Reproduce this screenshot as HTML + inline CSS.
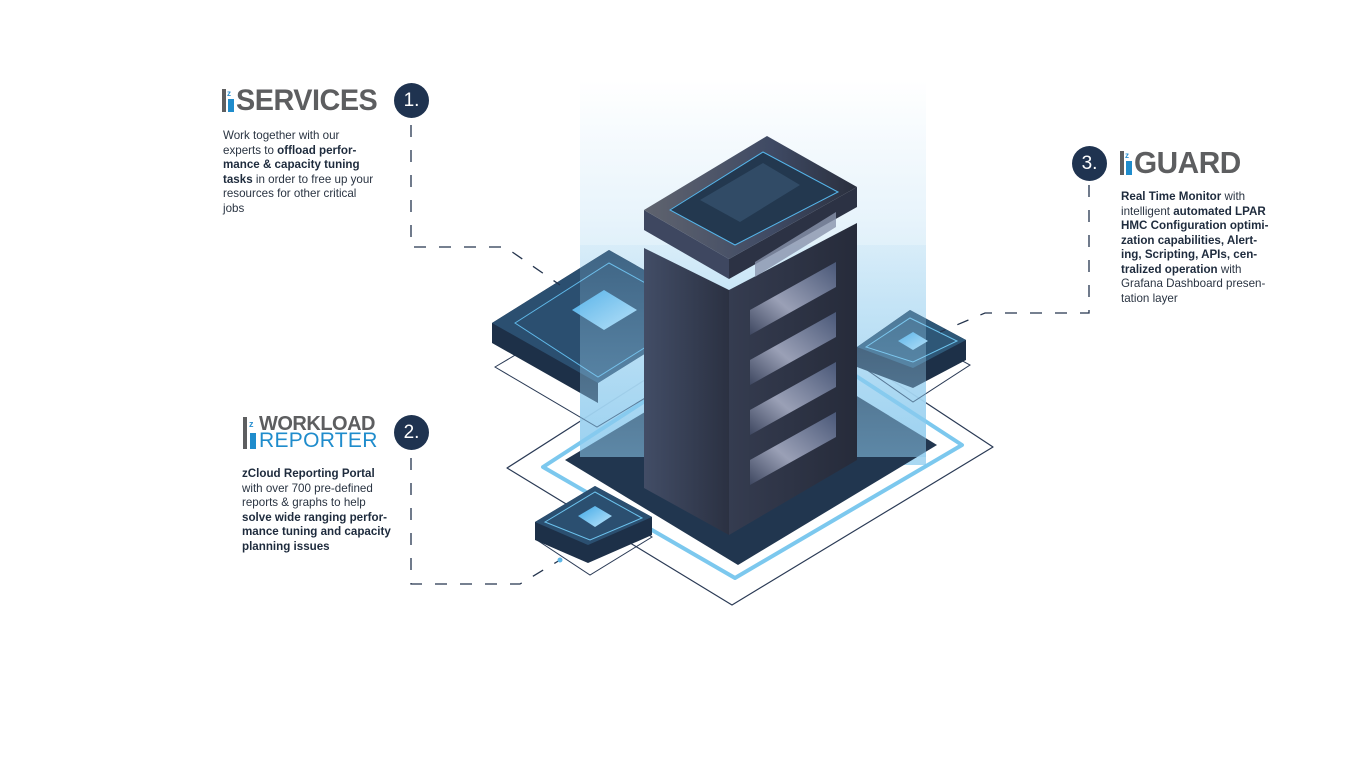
<!DOCTYPE html>
<html><head><meta charset="utf-8">
<style>
body{margin:0;width:1366px;height:768px;background:#fff;overflow:hidden;position:relative;font-family:"Liberation Sans",sans-serif;}
.t{position:absolute;font-size:11.6px;line-height:14.5px;color:#2a3442;}
.t b{color:#1e2b3d;}
.logo{position:absolute;font-weight:bold;color:#5d5e60;letter-spacing:-0.5px;transform-origin:0 0;}
.num{position:absolute;width:35px;height:35px;border-radius:50%;background:#1f3350;color:#fff;font-size:19px;line-height:35px;text-align:center;}
</style></head><body>
<svg width="1366" height="768" style="position:absolute;left:0;top:0">
<defs>
<linearGradient id="glow" x1="0" y1="0" x2="0" y2="1">
<stop offset="0" stop-color="#ffffff"/><stop offset="0.35" stop-color="#e6f3fb"/><stop offset="1" stop-color="#9fd3f0"/>
</linearGradient>
<linearGradient id="ov" x1="0" y1="0" x2="0" y2="1">
<stop offset="0" stop-color="#a7d6f1" stop-opacity="0.15"/><stop offset="1" stop-color="#8ecbef" stop-opacity="0.55"/>
</linearGradient>
<linearGradient id="lf" x1="0" y1="0" x2="1" y2="0"><stop offset="0" stop-color="#424d66"/><stop offset="1" stop-color="#2b3142"/></linearGradient>
<linearGradient id="rf" x1="0" y1="0" x2="1" y2="0"><stop offset="0" stop-color="#353c50"/><stop offset="1" stop-color="#262b3a"/></linearGradient>
<linearGradient id="cap" x1="0" y1="0" x2="1" y2="0"><stop offset="0" stop-color="#5f636e"/><stop offset="0.6" stop-color="#3f4a64"/><stop offset="1" stop-color="#2a2f3d"/></linearGradient>
<linearGradient id="win" x1="0" y1="1" x2="1" y2="0"><stop offset="0" stop-color="#3e4760"/><stop offset="0.4" stop-color="#9aa0b6"/><stop offset="1" stop-color="#4a5878"/></linearGradient>
<linearGradient id="sq" x1="0" y1="0" x2="1" y2="1"><stop offset="0" stop-color="#3fa8e6"/><stop offset="1" stop-color="#bfe6fb"/></linearGradient>
</defs>
<polygon points="507,468 770,300 993,447 732,605" fill="none" stroke="#2a3a55" stroke-width="1.2" stroke-linejoin="round"/>
<rect x="580" y="80" width="346" height="385" fill="url(#glow)" opacity="0.9"/>
<polygon points="543,467 770,320 962,445 735,578" fill="none" stroke="#7cc8ee" stroke-width="4" stroke-linejoin="round"/>
<polygon points="565,460 765,340 937,445 738,565" fill="#21364f"/>
<polygon points="495,367 600,305 700,365 597,427" fill="none" stroke="#2a3a55" stroke-width="1"/>
<polygon points="492,323 609,250 715,310 598,383 598,403 492,343" fill="#1d3048"/>
<polygon points="492,323 609,250 715,310 598,383" fill="#2b4f70"/>
<polygon points="515,323 609,263 700,313 598,377" fill="none" stroke="#5fb8e8" stroke-width="1"/>
<polygon points="572,310 604,290 637,310 604,330" fill="url(#sq)"/>
<polygon points="860,365 915,335 970,365 913,402" fill="none" stroke="#2a3a55" stroke-width="1"/>
<polygon points="857,347 910,310 966,340 966,360 913,388 857,367" fill="#1d3048"/>
<polygon points="857,347 910,310 966,340 913,368" fill="#2e5777"/>
<polygon points="866,347 910,318 957,341 913,362" fill="none" stroke="#6cc3ee" stroke-width="1"/>
<polygon points="898,341 913,332 928,341 913,350" fill="url(#sq)"/>
<rect x="580" y="245" width="346" height="212" fill="url(#ov)"/>
<polygon points="537,540 598,505 652,537 590,575" fill="none" stroke="#2a3a55" stroke-width="1"/>
<polygon points="535,522 595,486 652,517 652,535 588,563 535,540" fill="#1d3048"/>
<polygon points="535,522 595,486 652,517 588,545" fill="#2b4f70"/>
<polygon points="545,522 595,492 642,518 590,540" fill="none" stroke="#6cc3ee" stroke-width="1"/>
<polygon points="578,516 595,506 612,516 595,527" fill="url(#sq)"/>
<polygon points="644,248 729,290 729,535 644,488" fill="url(#lf)"/>
<polygon points="729,290 857,223 857,460 729,535" fill="url(#rf)"/>
<g fill="url(#win)">
<polygon points="750,310 836,262 836,287 750,335"/>
<polygon points="750,360 836,312 836,337 750,385"/>
<polygon points="750,410 836,362 836,387 750,435"/>
<polygon points="750,460 836,412 836,437 750,485"/>
</g>
<polygon points="644,210 729,259 729,279 644,230" fill="#3e4760"/>
<polygon points="729,259 857,187 857,207 729,279" fill="#2c3244"/>
<polygon points="644,210 767,136 857,187 729,259" fill="url(#cap)"/>
<polygon points="670,210 763,152 838,192 735,245" fill="#23384f" stroke="#55b5ea" stroke-width="1"/>
<polygon points="700,200 763,163 800,185 740,222" fill="#34506c" opacity="0.8"/>
<polygon points="755,262 836,212 836,227 755,277" fill="#8a93ad" opacity="0.8"/>
<g fill="none" stroke="#24344d" stroke-width="1.3" stroke-dasharray="12,13">
<path d="M411,125 V247 H505 L560,285"/>
<path d="M411,458 V584 H520 L560,560"/>
<path d="M1089,185 V313 H985 L940,332"/>
</g>
<circle cx="560" cy="560" r="2.5" fill="#5fb8e8"/>
</svg>

<div style="position:absolute;left:222px;top:89px;width:4px;height:23px;background:#5d5e60"></div>
<div style="position:absolute;left:227px;top:89px;width:8px;height:9px;color:#2a8fd0;font-size:8px;line-height:9px;font-weight:bold">z</div>
<div style="position:absolute;left:228px;top:99px;width:6px;height:13px;background:#1f8ccc"></div>
<div class="logo" style="left:236px;top:84px;font-size:30px;line-height:34px;transform:scaleX(0.96)">SERVICES</div>
<div class="num" style="left:394px;top:83px">1.</div>
<div class="t" style="left:223px;top:129px">Work together with our<br>experts to <b>offload perfor-<br>mance &amp; capacity tuning<br>tasks</b> in order to free up your<br>resources for other critical<br>jobs</div>

<div style="position:absolute;left:243px;top:417px;width:4px;height:32px;background:#5d5e60"></div>
<div style="position:absolute;left:249px;top:417px;width:8px;height:14px;color:#2a8fd0;font-size:9px;line-height:14px;font-weight:bold">z</div>
<div style="position:absolute;left:250px;top:433px;width:6px;height:16px;background:#1f8ccc"></div>
<div class="logo" style="left:259px;top:414px;font-size:20px;line-height:20px">WORKLOAD</div>
<div style="position:absolute;left:259px;top:431px;font-size:21px;line-height:20px;color:#1f8ccc;letter-spacing:0.3px">REPORTER</div>
<div class="num" style="left:394px;top:415px">2.</div>
<div class="t" style="left:242px;top:467px"><b>zCloud Reporting Portal</b><br>with over 700 pre-defined<br>reports &amp; graphs to help<br><b>solve wide ranging perfor-<br>mance tuning and capacity<br>planning issues</b></div>

<div class="num" style="left:1072px;top:146px">3.</div>
<div style="position:absolute;left:1120px;top:151px;width:4px;height:24px;background:#5d5e60"></div>
<div style="position:absolute;left:1125px;top:151px;width:8px;height:9px;color:#2a8fd0;font-size:8px;line-height:9px;font-weight:bold">z</div>
<div style="position:absolute;left:1126px;top:161px;width:6px;height:14px;background:#1f8ccc"></div>
<div class="logo" style="left:1134px;top:146px;font-size:31px;line-height:34px;transform:scaleX(0.96)">GUARD</div>
<div class="t" style="left:1121px;top:190px"><b>Real Time Monitor</b> with<br>intelligent <b>automated LPAR<br>HMC Configuration optimi-<br>zation capabilities, Alert-<br>ing, Scripting, APIs, cen-<br>tralized operation</b> with<br>Grafana Dashboard presen-<br>tation layer</div>
</body></html>
